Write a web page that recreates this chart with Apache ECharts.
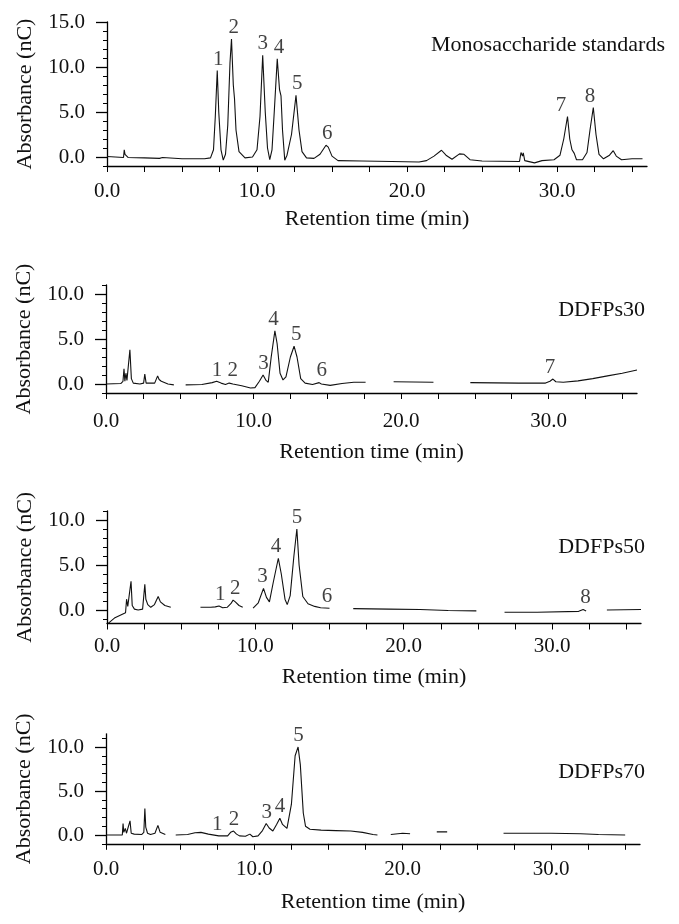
<!DOCTYPE html>
<html>
<head>
<meta charset="utf-8">
<script src="https://cdn.jsdelivr.net/npm/echarts@6/dist/echarts.min.js"></script>
<style>
html,body{margin:0;padding:0;background:#fff;}
#chart{width:679px;height:924px;}
</style>
</head>
<body>
<div id="chart"></div>
<script>
// ---- data (retention time in min, absorbance in nC); null = gap in trace ----
const panelTitles = ['Monosaccharide standards', 'DDFPs30', 'DDFPs50', 'DDFPs70'];
const xTickValues = [0, 2.5, 5, 7.5, 10, 12.5, 15, 17.5, 20, 22.5, 25, 27.5, 30, 32.5, 35];
const xLabelValues = [0, 10, 20, 30];
const yLabelValuesStd = [0, 5, 10, 15];
const yLabelValuesSample = [0, 5, 10];

const stdTrace = [[0,0.05],[1.1,-0.05],[1.15,0.8],[1.2,0.3],[1.3,0.5],[1.4,-0.05],[2.5,-0.1],[3.5,-0.15],[3.7,-0.05],[3.8,-0.15],[5.0,-0.2],[6.5,-0.2],[6.9,-0.1],[7.1,0.8],[7.22,4.5],[7.35,9.6],[7.45,5],[7.6,0.8],[7.75,-0.35],[7.9,0.3],[8.05,3.5],[8.2,10.5],[8.3,13.1],[8.42,8],[8.5,6.5],[8.6,3],[8.8,0.6],[9.2,-0.1],[9.7,0.0],[10.0,0.8],[10.2,4.5],[10.38,11.3],[10.55,5],[10.7,1.0],[10.85,-0.3],[11.0,0.8],[11.15,5],[11.35,10.9],[11.5,7.5],[11.6,6.8],[11.7,3],[11.85,-0.35],[12.0,0.2],[12.3,2.5],[12.6,6.85],[12.8,3],[13.0,0.6],[13.3,-0.1],[13.8,-0.15],[14.2,0.3],[14.6,1.3],[14.75,1.1],[15.0,0.1],[15.4,-0.4],[17,-0.45],[19,-0.5],[20.8,-0.55],[21.3,-0.4],[21.8,0.1],[22.3,0.75],[22.6,0.2],[23.0,-0.25],[23.5,0.35],[23.8,0.3],[24.2,-0.3],[25,-0.45],[27.5,-0.5],[27.6,0.5],[27.7,0.1],[27.75,0.45],[27.85,-0.4],[28.5,-0.65],[29.0,-0.4],[29.8,-0.3],[30.2,0.2],[30.45,2.0],[30.7,4.5],[30.85,2.0],[31.0,0.8],[31.15,0.4],[31.3,-0.3],[31.7,-0.3],[32.0,0.5],[32.2,3.0],[32.42,5.5],[32.6,2.5],[32.8,0.3],[33.1,-0.2],[33.5,0.2],[33.75,0.7],[33.95,0.1],[34.3,-0.3],[35.0,-0.2],[35.7,-0.2]];

const d30Trace = [[0,0.0],[1.0,0.05],[1.15,0.3],[1.22,1.7],[1.28,0.3],[1.35,1.2],[1.42,0.4],[1.5,0.6],[1.62,3.8],[1.72,0.6],[1.85,0.1],[2.3,0.0],[2.55,0.1],[2.63,1.1],[2.72,0.1],[2.85,-0.05],[3.3,0.1],[3.5,0.9],[3.6,0.5],[3.75,0.3],[4.2,0.0],[4.6,-0.1],[4.8,null],[5.4,-0.1],[6.5,-0.05],[7.2,0.15],[7.5,0.3],[7.8,0.1],[8.1,-0.05],[8.35,0.1],[8.45,0.2],[8.6,0.0],[9.2,-0.2],[9.8,-0.45],[10.1,-0.4],[10.4,0.3],[10.65,1.0],[10.85,0.4],[11.0,0.2],[11.2,3.0],[11.45,5.9],[11.6,4.5],[11.8,1.2],[12.0,0.45],[12.2,0.8],[12.5,3.0],[12.75,4.2],[12.95,3.0],[13.2,0.6],[13.5,0.1],[14.0,-0.05],[14.45,0.15],[14.6,0.0],[15.2,-0.15],[16.0,0.05],[16.8,0.2],[17.6,0.2],[17.7,null],[19.5,0.25],[22.2,0.2],[22.3,null],[24.7,0.15],[28,0.1],[29.8,0.1],[30.1,0.3],[30.3,0.55],[30.5,0.25],[31.0,0.2],[32.0,0.35],[33.0,0.6],[34.0,0.9],[35.0,1.2],[36.0,1.55]];

const d50Trace = [[0.1,-1.45],[0.5,-0.9],[1.0,-0.5],[1.25,-0.3],[1.32,1.2],[1.4,0.4],[1.52,0.6],[1.62,3.2],[1.7,0.5],[1.85,0.1],[2.1,0.0],[2.4,0.1],[2.55,2.85],[2.62,1.2],[2.75,0.6],[2.95,0.3],[3.2,0.6],[3.45,1.5],[3.6,0.9],[3.9,0.5],[4.3,0.3],[4.4,null],[6.3,0.3],[7.0,0.3],[7.3,0.35],[7.55,0.45],[7.8,0.25],[8.1,0.3],[8.35,0.7],[8.5,1.1],[8.65,0.9],[8.9,0.5],[9.15,0.3],[9.2,null],[9.85,0.2],[10.2,0.8],[10.55,2.4],[10.75,1.4],[10.95,0.9],[11.2,3.0],[11.55,5.75],[11.75,4.0],[12.0,1.2],[12.15,0.6],[12.35,1.6],[12.6,6.0],[12.8,9.0],[12.95,5.0],[13.2,1.5],[13.55,0.7],[14.0,0.4],[14.4,0.25],[15.0,0.2],[15.1,null],[16.6,0.15],[19.0,0.1],[21.1,0.05],[23.0,-0.05],[24.9,-0.1],[25.0,null],[26.8,-0.25],[29.0,-0.25],[31.8,-0.15],[32.1,0.05],[32.3,-0.1],[32.4,null],[33.7,0.0],[36.0,0.05]];

const d70Trace = [[0,0.0],[1.1,0.0],[1.15,1.3],[1.2,0.3],[1.3,0.75],[1.38,0.2],[1.5,0.3],[1.62,1.6],[1.7,0.2],[1.9,0.1],[2.4,0.05],[2.55,0.3],[2.62,3.0],[2.68,0.9],[2.8,0.2],[3.0,0.05],[3.3,0.2],[3.5,1.1],[3.65,0.3],[4.0,0.05],[4.2,null],[4.7,0.0],[5.5,0.05],[6.0,0.25],[6.4,0.3],[6.9,0.1],[7.6,-0.1],[8.2,-0.1],[8.4,0.3],[8.6,0.45],[8.8,0.1],[9.0,-0.1],[9.4,-0.15],[9.7,0.1],[9.9,-0.2],[10.25,-0.1],[10.55,0.5],[10.8,1.3],[11.0,0.8],[11.25,0.45],[11.5,1.2],[11.72,1.9],[11.9,1.2],[12.2,0.75],[12.5,3.5],[12.75,9.0],[12.95,10.0],[13.1,8.0],[13.3,2.5],[13.45,1.0],[13.75,0.65],[14.5,0.55],[15.5,0.5],[16.5,0.45],[17.3,0.3],[18.0,0.05],[18.3,0.0],[18.4,null],[19.2,0.05],[20.0,0.2],[20.5,0.15],[20.6,null],[22.3,0.35],[23.0,0.35],[23.1,null],[26.8,0.2],[30.0,0.2],[32.0,0.15],[33.2,0.05],[35.0,0.0]];

// peak labels: [name, retention time, absorbance at apex]
const stdPeaks = [['1',7.42,9.6],['2',8.45,13.1],['3',10.38,11.3],['4',11.47,10.9],['5',12.69,6.85],['6',14.69,1.3],['7',30.27,4.5],['8',32.2,5.5]];
const d30Peaks = [['1',7.52,0.26],['2',8.6,0.2],['3',10.68,1.0],['4',11.36,5.9],['5',12.9,4.2],['6',14.63,0.2],['7',30.1,0.55]];
const d50Peaks = [['1',7.64,0.4],['2',8.65,1.1],['3',10.49,2.4],['4',11.4,5.75],['5',12.81,9.0],['6',14.83,0.2],['8',32.25,0.1]];
const d70Peaks = [['1',7.5,-0.1],['2',8.63,0.45],['3',10.83,1.3],['4',11.73,1.9],['5',12.97,10.0]];

// ---- layout / style ----
const FONT = 'Liberation Serif';
const TXT = '#111';
const panels = [
  {trace: stdTrace, peaks: stdPeaks, yMin: -1, yMax: 15, yLabels: yLabelValuesStd,
   grid: {left: 107, top: 22, width: 540, height: 144}, labelMargin: 15, nameGapX: 42,
   title: {right: 9, top: 29}},
  {trace: d30Trace, peaks: d30Peaks, yMin: -1, yMax: 11, yLabels: yLabelValuesSample,
   grid: {left: 106, top: 285, width: 531, height: 108}, labelMargin: 18, nameGapX: 48,
   title: {right: 29, top: 294}},
  {trace: d50Trace, peaks: d50Peaks, yMin: -1.5, yMax: 11, yLabels: yLabelValuesSample,
   grid: {left: 107, top: 511, width: 534, height: 112.5}, labelMargin: 12, nameGapX: 43,
   title: {right: 29, top: 531}},
  {trace: d70Trace, peaks: d70Peaks, yMin: -1, yMax: 11.5, yLabels: yLabelValuesSample,
   grid: {left: 106, top: 733.8, width: 534, height: 110}, labelMargin: 15, nameGapX: 47,
   title: {right: 29, top: 756}}
];

function intRange(a, b) { const r = []; for (let v = Math.ceil(a); v <= b; v++) r.push(v); return r; }

const option = {animation: false, backgroundColor: '#fff', grid: [], xAxis: [], yAxis: [], series: [], title: []};

panels.forEach((p, i) => {
  option.grid.push(Object.assign({containLabel: false}, p.grid));
  option.title.push({text: panelTitles[i], right: p.title.right, top: p.title.top,
    textStyle: {fontFamily: FONT, fontSize: 22, fontWeight: 'normal', color: TXT}});
  option.xAxis.push({
    type: 'value', gridIndex: i, min: 0, max: 36,
    name: 'Retention time (min)', nameLocation: 'middle', nameGap: p.nameGapX,
    nameTextStyle: {fontFamily: FONT, fontSize: 22, color: TXT},
    axisLine: {show: true, onZero: false, lineStyle: {color: '#000', width: 1.3}},
    axisTick: {show: true, inside: false, length: 6, customValues: xTickValues, lineStyle: {color: '#000', width: 1}},
    axisLabel: {customValues: xLabelValues, margin: p.labelMargin, fontFamily: FONT, fontSize: 21, color: TXT,
      formatter: v => v.toFixed(1)},
    splitLine: {show: false}
  });
  option.yAxis.push({
    type: 'value', gridIndex: i, min: p.yMin, max: p.yMax,
    name: 'Absorbance (nC)', nameLocation: 'middle', nameGap: 71, nameRotate: 90,
    nameTextStyle: {fontFamily: FONT, fontSize: 22, color: TXT},
    axisLine: {show: true, onZero: false, lineStyle: {color: '#000', width: 1.3}},
    axisTick: {show: true, inside: false, length: 11, customValues: p.yLabels, lineStyle: {color: '#000', width: 1.3}},
    axisLabel: {customValues: p.yLabels, margin: 22, fontFamily: FONT, fontSize: 21, color: TXT,
      formatter: v => v.toFixed(1)},
    splitLine: {show: false}
  });
  option.yAxis.push({
    type: 'value', gridIndex: i, min: p.yMin, max: p.yMax,
    axisLine: {show: false},
    axisTick: {show: true, inside: true, length: 4, customValues: intRange(p.yMin, p.yMax), lineStyle: {color: '#000', width: 1}},
    axisLabel: {show: false},
    splitLine: {show: false}
  });
  option.series.push({
    type: 'line', xAxisIndex: i, yAxisIndex: 2 * i, symbol: 'none', connectNulls: false,
    data: p.trace.map(d => [d[0], d[1] === null ? '-' : d[1]]),
    lineStyle: {color: '#111', width: 1.1}
  });
  option.series.push({
    type: 'scatter', xAxisIndex: i, yAxisIndex: 2 * i, symbolSize: 0, silent: true,
    data: p.peaks.map(d => ({name: d[0], value: [d[1], d[2]]})),
    label: {show: true, position: 'top', distance: 1, formatter: '{b}',
      fontFamily: FONT, fontSize: 21, color: TXT}
  });
});

const chart = echarts.init(document.getElementById('chart'), null, {renderer: 'canvas'});
chart.setOption(option);
</script>
</body>
</html>
